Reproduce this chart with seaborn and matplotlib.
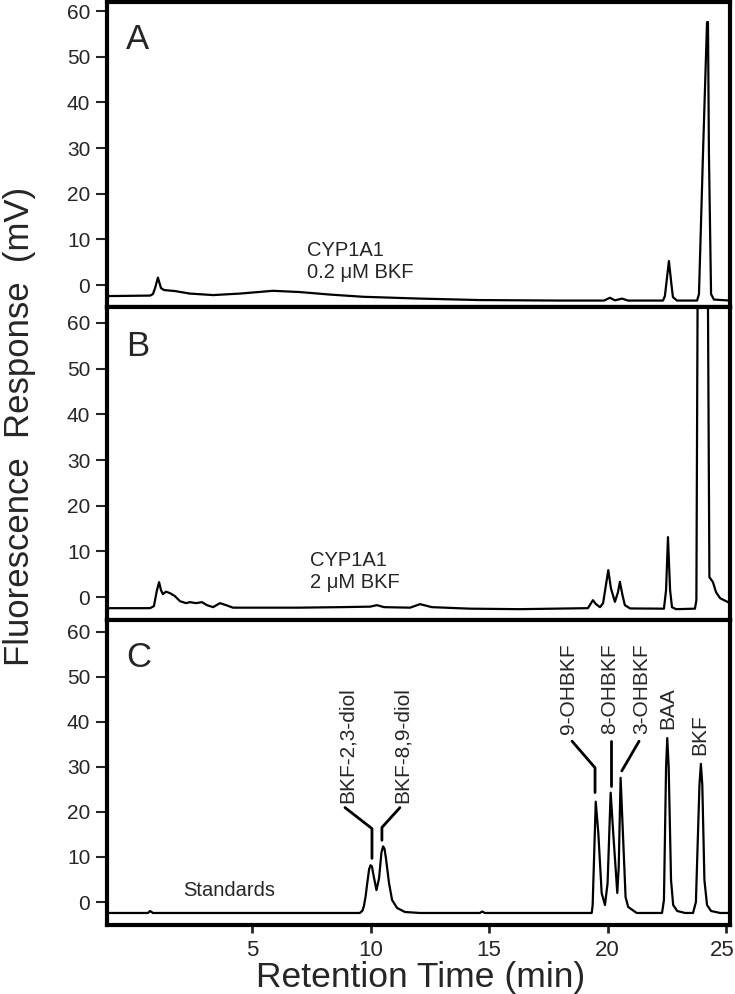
import matplotlib
matplotlib.use('Agg')
import matplotlib.pyplot as plt
import matplotlib.transforms as mtransforms
import seaborn as sns
import numpy as np

# traces: retention time (min), response (mV)
time_a = [-1.14, 0.68, 0.80, 0.89, 1.01, 1.14, 1.27, 1.73, 2.36, 3.34, 4.48, 5.87, 7.01, 8.28,
          9.67, 12.08, 14.61, 17.99, 19.85, 20.10, 20.31, 20.61, 20.86, 22.34, 22.42, 22.59,
          22.70, 22.76, 22.93, 23.78, 23.86, 24.03, 24.20, 24.24, 24.28, 24.37, 24.49, 25.17]
resp_a = [-2.41, -2.30, -1.97, -0.66, 1.64, -0.66, -1.09, -1.31, -1.86, -2.19, -1.86, -1.25, -1.53, -2.08,
          -2.56, -2.96, -3.28, -3.39, -3.39, -2.78, -3.35, -2.96, -3.39, -3.39, -2.41, 5.26,
          0.0, -2.63, -3.39, -3.39, -1.97, 28.9, 57.6, 57.6, 28.9, -1.97, -3.17, -3.39]

time_b = [-1.14, 0.68, 0.84, 0.97, 1.06, 1.14, 1.22, 1.35, 1.52, 1.73, 1.94, 2.20, 2.36, 2.62,
          2.87, 3.08, 3.34, 3.63, 3.89, 4.18, 7.01, 8.70, 9.97, 10.26, 10.56, 11.66, 12.08,
          12.58, 14.19, 16.30, 19.17, 19.38, 19.51, 19.68, 19.81, 19.93, 20.03, 20.14, 20.31,
          20.44, 20.52, 20.63, 20.73, 20.95, 22.38, 22.47, 22.55, 22.64, 22.72, 22.89, 23.69,
          23.75, 23.80, 24.04, 24.24, 24.30, 24.45, 24.58, 24.75, 25.17]
resp_b = [-2.41, -2.41, -1.97, 1.53, 3.28, 1.53, 0.66, 1.20, 0.88, 0.22, -0.88, -1.31, -1.09, -1.31,
          -1.09, -1.75, -2.19, -1.31, -1.75, -2.30, -2.30, -2.19, -2.08, -1.75, -2.19, -2.30, -1.53,
          -2.19, -2.52, -2.63, -2.41, -0.66, -1.53, -2.19, -1.31, 2.63, 5.91, 1.97, -1.03,
          1.09, 3.35, 0.44, -1.75, -2.47, -2.52, 1.53, 13.14, 1.53, -2.19, -2.63, -2.52,
          -0.66, 63.5, 200.0, 63.5, 4.38, 3.28, 1.09, -0.22, -1.31]

time_c = [-1.14, 0.59, 0.68, 0.80, 9.54, 9.65, 9.71, 9.78, 9.84, 9.93, 9.99, 10.05, 10.09, 10.24,
          10.35, 10.45, 10.52, 10.58, 10.64, 10.77, 10.90, 11.11, 11.44, 12.08, 14.61, 14.70,
          14.82, 19.26, 19.33, 19.37, 19.50, 19.61, 19.75, 19.89, 20.00, 20.13, 20.24, 20.41,
          20.47, 20.55, 20.66, 20.76, 20.87, 21.23, 22.30, 22.38, 22.47, 22.52, 22.58, 22.68,
          22.77, 22.94, 23.27, 23.61, 23.73, 23.88, 23.94, 24.00, 24.09, 24.20, 24.37, 24.75,
          25.17]
resp_c = [-2.43, -2.43, -1.99, -2.43, -2.43, -1.9, -0.88, 1.2, 3.75, 7.3, 8.16, 7.9, 6.62, 2.65,
          5.29, 11.0, 12.35, 11.8, 9.71, 4.19, 0.44, -1.32, -2.21, -2.43, -2.43, -2.10,
          -2.43, -2.43, -2.43, -0.66, 22.28, 15.2, 2.0, -0.66, 4.2, 24.27, 15.2, 2.0,
          7.7, 27.58, 13.7, 1.1, -1.1, -2.43, -2.43, 0.44, 30.0, 36.4, 30.0, 4.85,
          -0.66, -1.99, -2.43, -2.43, 0.0, 26.0, 30.66, 26.0, 4.85, -0.66, -1.99, -2.43,
          -2.43]

peak_names = ['BKF-2,3-diol', 'BKF-8,9-diol', '9-OHBKF', '8-OHBKF', '3-OHBKF', 'BAA', 'BKF']
panel_letters = ['A', 'B', 'C']
panel_notes = ['CYP1A1\n0.2 \u03bcM BKF', 'CYP1A1\n2 \u03bcM BKF', 'Standards']
y_ticks = [0, 10, 20, 30, 40, 50, 60]
x_ticks = [5, 10, 15, 20, 25]

sns.set_style('ticks')
plt.rcParams['font.family'] = ['Liberation Sans', 'DejaVu Sans']

W, H = 735, 994
fig = plt.figure(figsize=(W / 100, H / 100), dpi=100)

# pixel rows of each panel (top, bottom) and the y range that fits it
rows = [(2, 307), (307, 620), (620, 925)]
ylims = [(-4.8, 62.0), (-5.0, 63.5), (-5.1, 62.6)]
note_pos = [(7.31, 1.5), (7.43, 2.0), (2.07, 1.3)]
traces = [(time_a, resp_a), (time_b, resp_b), (time_c, resp_c)]
left, right = 107, 730

axes = []
for i, (top, bot) in enumerate(rows):
    ax = fig.add_axes([left / W, 1 - bot / H, (right - left) / W, (bot - top) / H])
    t, r = traces[i]
    sns.lineplot(x=t, y=r, ax=ax, color='black', linewidth=1.6, estimator=None, sort=False)
    ax.set_xlim(-1.14, 25.17)
    ax.set_ylim(*ylims[i])
    ax.set_yticks(y_ticks)
    ax.tick_params(axis='y', direction='out', length=8, width=1.5, pad=4, labelsize=15)
    if i < 2:
        ax.set_xticks([])
    else:
        ax.set_xticks(x_ticks)
        ax.tick_params(axis='x', direction='out', length=6, width=2, pad=5, labelsize=16)
    for s in ax.spines.values():
        s.set_visible(True)
        s.set_linewidth(3)
        s.set_color('black')
    ax.text(0.0305, 0.845, panel_letters[i], transform=ax.transAxes, fontsize=25, va='baseline')
    ax.text(note_pos[i][0], note_pos[i][1], panel_notes[i], fontsize=14.5, va='baseline',
            linespacing=1.2)
    ax.set_xlabel('')
    ax.set_ylabel('')
    axes.append(ax)

ax = axes[2]
# keep the last tick label inside the figure edge
last = ax.get_xticklabels()[-1]
last.set_transform(last.get_transform() + mtransforms.ScaledTranslation(-4 / 100, 0, fig.dpi_scale_trans))

# label anchor (time, bottom of text) and leader lines for the standards
label_pos = [(9.00, 22.06), (11.32, 22.06), (18.33, 37.3), (20.10, 37.3), (21.45, 37.3),
             (22.55, 38.4), (23.90, 32.6)]
leaders = [
    [(8.91, 20.96), (10.05, 16.3), (10.05, 9.7)],
    [(11.23, 20.96), (10.47, 16.55), (10.47, 13.7)],
    [(18.50, 35.7), (19.47, 29.8), (19.47, 24.3)],
    [(20.14, 35.7), (20.14, 25.8)],
    [(21.33, 35.7), (20.60, 29.1)],
    None,
    None,
]
for name, (lx, ly), lead in zip(peak_names, label_pos, leaders):
    ax.text(lx, ly, name, rotation=90, ha='center', va='bottom', fontsize=15)
    if lead is not None:
        xs, ys = zip(*lead)
        ax.plot(xs, ys, color='black', linewidth=2)

fig.text(421 / W, 1 - 987 / H, 'Retention Time (min)', ha='center', va='baseline', fontsize=25.5)
fig.text(0.026, 1 - 426 / H, 'Fluorescence  Response  (mV)', rotation=90, ha='center',
         va='center', fontsize=25)

fig.savefig('out.png', dpi=100)
